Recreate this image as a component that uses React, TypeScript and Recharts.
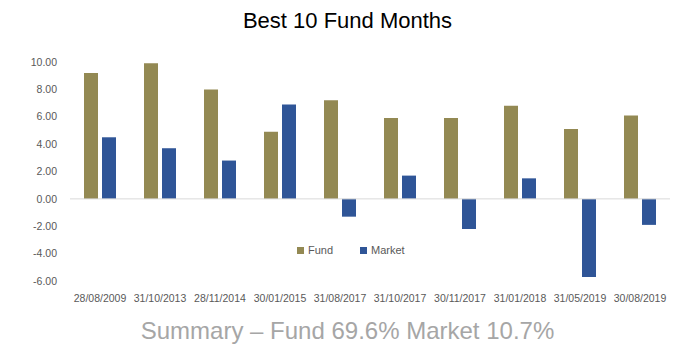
import React from "react";
import { BarChart, Bar, XAxis, YAxis, ReferenceLine } from "recharts";

const months = [
  "28/08/2009",
  "31/10/2013",
  "28/11/2014",
  "30/01/2015",
  "31/08/2017",
  "31/10/2017",
  "30/11/2017",
  "31/01/2018",
  "31/05/2019",
  "30/08/2019",
];
const fund = [9.2, 9.9, 8.0, 4.9, 7.2, 5.9, 5.9, 6.8, 5.1, 6.1];
const market = [4.5, 3.7, 2.8, 6.9, -1.3, 1.7, -2.2, 1.5, -5.7, -1.9];
const yTicks = [-6, -4, -2, 0, 2, 4, 6, 8, 10];

const FUND_COLOR = "#938953";
const MARKET_COLOR = "#2f5597";

const data = months.map((m, i) => ({ month: m, Fund: fund[i], Market: market[i] }));

const FONT = "'Liberation Sans', Arial, sans-serif";
const TICK = { fill: "#595959", fontSize: 10.5, fontFamily: FONT };

const legendItems = [
  { name: "Fund", color: FUND_COLOR, left: 297 },
  { name: "Market", color: MARKET_COLOR, left: 360 },
];

export default function App() {
  return (
    <div style={{ position: "absolute", left: 0, top: 0, width: 695, height: 364, background: "#fff" }}>
      <div
        style={{
          position: "absolute",
          top: 8,
          width: 695,
          textAlign: "center",
          fontFamily: FONT,
          fontSize: 22,
          color: "#000",
        }}
      >
        Best 10 Fund Months
      </div>
      <BarChart
        width={695}
        height={364}
        data={data}
        margin={{ top: 62, right: 25, bottom: 53, left: 0 }}
        barSize={14}
        barGap={4}
      >
        <XAxis
          dataKey="month"
          axisLine={false}
          tickLine={false}
          tick={TICK}
          tickMargin={8}
          interval={0}
        />
        <YAxis
          width={70}
          domain={[-6, 10]}
          ticks={yTicks}
          axisLine={false}
          tickLine={false}
          tickSize={0}
          tickMargin={13}
          tick={TICK}
          tickFormatter={(v: number) => v.toFixed(2)}
        />
        <ReferenceLine y={0} stroke="#d9d9d9" strokeWidth={1} />
        <Bar dataKey="Fund" fill={FUND_COLOR} isAnimationActive={false} />
        <Bar dataKey="Market" fill={MARKET_COLOR} isAnimationActive={false} />
      </BarChart>
      {legendItems.map((it) => (
        <div
          key={it.name}
          style={{
            position: "absolute",
            top: 244,
            left: it.left,
            display: "flex",
            alignItems: "center",
            fontFamily: FONT,
            fontSize: 11,
            color: "#595959",
          }}
        >
          <span style={{ width: 7, height: 7, background: it.color, marginRight: 4, display: "inline-block" }} />
          {it.name}
        </div>
      ))}
      <div
        style={{
          position: "absolute",
          top: 317,
          width: 695,
          textAlign: "center",
          fontFamily: FONT,
          fontSize: 24,
          color: "#a6a6a6",
        }}
      >
        Summary – Fund 69.6% Market 10.7%
      </div>
    </div>
  );
}
